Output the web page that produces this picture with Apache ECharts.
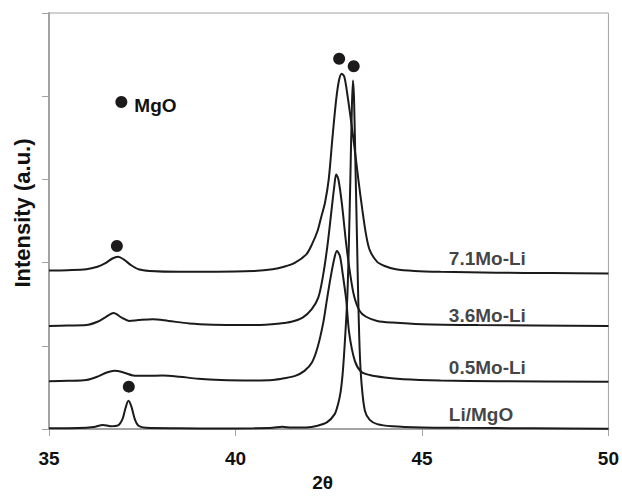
<!DOCTYPE html>
<html>
<head>
<meta charset="utf-8">
<script src="https://cdn.jsdelivr.net/npm/echarts@6/dist/echarts.min.js"></script>
<style>
  html, body { margin: 0; padding: 0; background: #fff; overflow: hidden; }
  #chart { width: 622px; height: 497px; }
</style>
</head>
<body>
<div id="chart"></div>
<script>
// XRD patterns (2θ, intensity with vertical offsets per sample)
const angles71 = [35.0, 35.5, 36.0, 36.3, 36.5, 36.7, 36.85, 37.0, 37.2, 37.4, 37.7, 38.5, 39.5, 40.5, 41.0, 41.3, 41.6, 41.9, 42.05, 42.2, 42.3, 42.4, 42.5, 42.6, 42.7, 42.78, 42.85, 42.92, 43.0, 43.1, 43.2, 43.3, 43.4, 43.5, 43.6, 43.8, 44.0, 44.3, 44.8, 45.5, 47.0, 48.5, 50.0];
const int71 = [1.905, 1.91, 1.92, 1.95, 1.99, 2.05, 2.07, 2.04, 1.97, 1.92, 1.90, 1.89, 1.89, 1.90, 1.92, 1.95, 2.00, 2.10, 2.22, 2.38, 2.55, 2.72, 3.0, 3.5, 3.96, 4.2, 4.27, 4.23, 4.02, 3.7, 3.35, 2.98, 2.64, 2.34, 2.15, 2.01, 1.96, 1.92, 1.90, 1.89, 1.88, 1.875, 1.87];

const angles36 = [35.0, 35.5, 36.0, 36.3, 36.5, 36.73, 36.95, 37.15, 37.4, 37.78, 38.2, 38.76, 39.4, 40.1, 40.8, 41.2, 41.5, 41.8, 42.04, 42.22, 42.35, 42.47, 42.58, 42.65, 42.7, 42.76, 42.85, 42.97, 43.08, 43.18, 43.33, 43.5, 43.8, 44.2, 45.0, 46.5, 50.0];
const int36 = [1.24, 1.245, 1.25, 1.29, 1.34, 1.395, 1.34, 1.30, 1.31, 1.32, 1.30, 1.27, 1.255, 1.25, 1.255, 1.27, 1.29, 1.34, 1.44, 1.58, 1.85, 2.22, 2.65, 2.92, 3.06, 3.0, 2.72, 2.22, 1.85, 1.6, 1.42, 1.35, 1.30, 1.28, 1.26, 1.25, 1.24];

const angles05 = [35.0, 35.5, 36.0, 36.3, 36.55, 36.76, 37.0, 37.25, 37.6, 38.05, 38.5, 39.0, 39.6, 40.5, 41.0, 41.3, 41.6, 41.85, 42.05, 42.2, 42.35, 42.45, 42.55, 42.65, 42.72, 42.8, 42.88, 42.97, 43.05, 43.2, 43.37, 43.6, 44.0, 44.5, 45.5, 47.0, 50.0];
const int05 = [0.575, 0.58, 0.59, 0.63, 0.68, 0.70, 0.68, 0.645, 0.64, 0.645, 0.63, 0.605, 0.59, 0.585, 0.59, 0.61, 0.64, 0.70, 0.80, 0.98, 1.27, 1.55, 1.82, 2.05, 2.14, 2.08, 1.85, 1.55, 1.15, 0.82, 0.69, 0.65, 0.62, 0.60, 0.585, 0.575, 0.57];

const anglesLi = [35.0, 35.8, 36.2, 36.45, 36.65, 36.85, 36.97, 37.05, 37.13, 37.21, 37.3, 37.4, 37.6, 38.5, 39.5, 40.5, 41.0, 41.25, 41.5, 41.9, 42.2, 42.45, 42.66, 42.75, 42.82, 42.88, 42.94, 43.0, 43.04, 43.08, 43.12, 43.15, 43.18, 43.22, 43.26, 43.29, 43.33, 43.38, 43.47, 43.6, 43.8, 44.2, 45.0, 46.0, 48.0, 50.0];
const intLi = [0.01, 0.012, 0.025, 0.05, 0.035, 0.045, 0.12, 0.25, 0.34, 0.27, 0.12, 0.04, 0.015, 0.01, 0.008, 0.01, 0.015, 0.028, 0.018, 0.02, 0.04, 0.08, 0.18, 0.3, 0.45, 0.7, 1.1, 1.6, 2.22, 3.0, 3.85, 4.19, 3.95, 3.1, 2.25, 1.6, 0.95, 0.55, 0.22, 0.11, 0.06, 0.035, 0.02, 0.015, 0.01, 0.005];

// MgO reflections marked with dots
const mgoAngles = [36.82, 37.14, 42.78, 43.17];
const mgoInt = [2.2, 0.51, 4.45, 4.36];

// key entry for the dot symbol
const keyAngle = 36.94;
const keyInt = 3.93;
const keyText = 'MgO';

// sample names written beside each pattern
const sampleNames = ['7.1Mo-Li', '3.6Mo-Li', '0.5Mo-Li', 'Li/MgO'];
const sampleLabelAngle = 45.72;
const sampleLabelInt = [2.05, 1.37, 0.74, 0.18];

const xTicks = [35, 40, 45, 50];

const INK = '#1c1a1b';
const AXIS = '#a3a3a3';
const FONT = '"Liberation Sans", Arial, Helvetica, sans-serif';

const pair = (xs, ys) => xs.map((x, i) => [x, ys[i]]);

function pattern(name, xs, ys) {
  return {
    name: name,
    type: 'line',
    data: pair(xs, ys),
    smooth: 0.3,
    symbol: 'none',
    lineStyle: { color: INK, width: 2 },
    silent: true,
    z: 3
  };
}

const chart = echarts.init(document.getElementById('chart'), null, { renderer: 'svg' });

chart.setOption({
  animation: false,
  backgroundColor: '#fff',
  grid: {
    left: 49, right: 10, top: 13, bottom: 57,
    show: true, borderColor: AXIS, borderWidth: 1, backgroundColor: 'transparent'
  },
  xAxis: {
    type: 'value',
    min: xTicks[0], max: xTicks[xTicks.length - 1], interval: 5,
    axisLine: { show: true, lineStyle: { color: AXIS, width: 2 } },
    axisTick: { show: true, inside: false, length: 7, lineStyle: { color: AXIS, width: 1 } },
    axisLabel: { color: '#111', fontFamily: FONT, fontWeight: 'bold', fontSize: 19, margin: 20 },
    splitLine: { show: false },
    name: '2θ',
    nameLocation: 'middle',
    nameGap: 41,
    nameTextStyle: { color: '#111', fontFamily: FONT, fontWeight: 'bold', fontSize: 19, padding: [0, 12, 0, 0] }
  },
  yAxis: {
    type: 'value',
    min: 0, max: 5, interval: 1,
    axisLine: { show: true, lineStyle: { color: AXIS, width: 2 } },
    axisTick: { show: true, inside: false, length: 7, lineStyle: { color: AXIS, width: 1 } },
    axisLabel: { show: false },
    splitLine: { show: false },
    name: 'Intensity (a.u.)',
    nameLocation: 'middle',
    nameGap: 16,
    nameTextStyle: { color: '#111', fontFamily: FONT, fontWeight: 'bold', fontSize: 22, padding: [0, 0, 0, 16] }
  },
  series: [
    pattern('7.1Mo-Li', angles71, int71),
    pattern('3.6Mo-Li', angles36, int36),
    pattern('0.5Mo-Li', angles05, int05),
    pattern('Li/MgO', anglesLi, intLi),
    {
      name: 'MgO',
      type: 'scatter',
      data: pair(mgoAngles, mgoInt),
      symbol: 'circle',
      symbolSize: 12,
      itemStyle: { color: INK, opacity: 1 },
      silent: true,
      z: 4
    },
    {
      name: 'MgO key',
      type: 'scatter',
      data: [[keyAngle, keyInt]],
      symbol: 'circle',
      symbolSize: 12,
      itemStyle: { color: INK, opacity: 1 },
      label: {
        show: true, position: 'right', distance: 7,
        formatter: keyText,
        color: '#111', fontFamily: FONT, fontWeight: 'bold', fontSize: 19,
        offset: [0, 3]
      },
      silent: true,
      z: 4
    },
    {
      name: 'sample names',
      type: 'scatter',
      data: sampleLabelInt.map((v, i) => ({ value: [sampleLabelAngle, v], name: sampleNames[i] })),
      symbolSize: 0,
      label: {
        show: true, position: 'right', distance: 0,
        formatter: p => p.name,
        color: '#111', fontFamily: FONT, fontWeight: 'bold', fontSize: 19
      },
      silent: true,
      z: 4
    }
  ]
});
</script>
</body>
</html>
